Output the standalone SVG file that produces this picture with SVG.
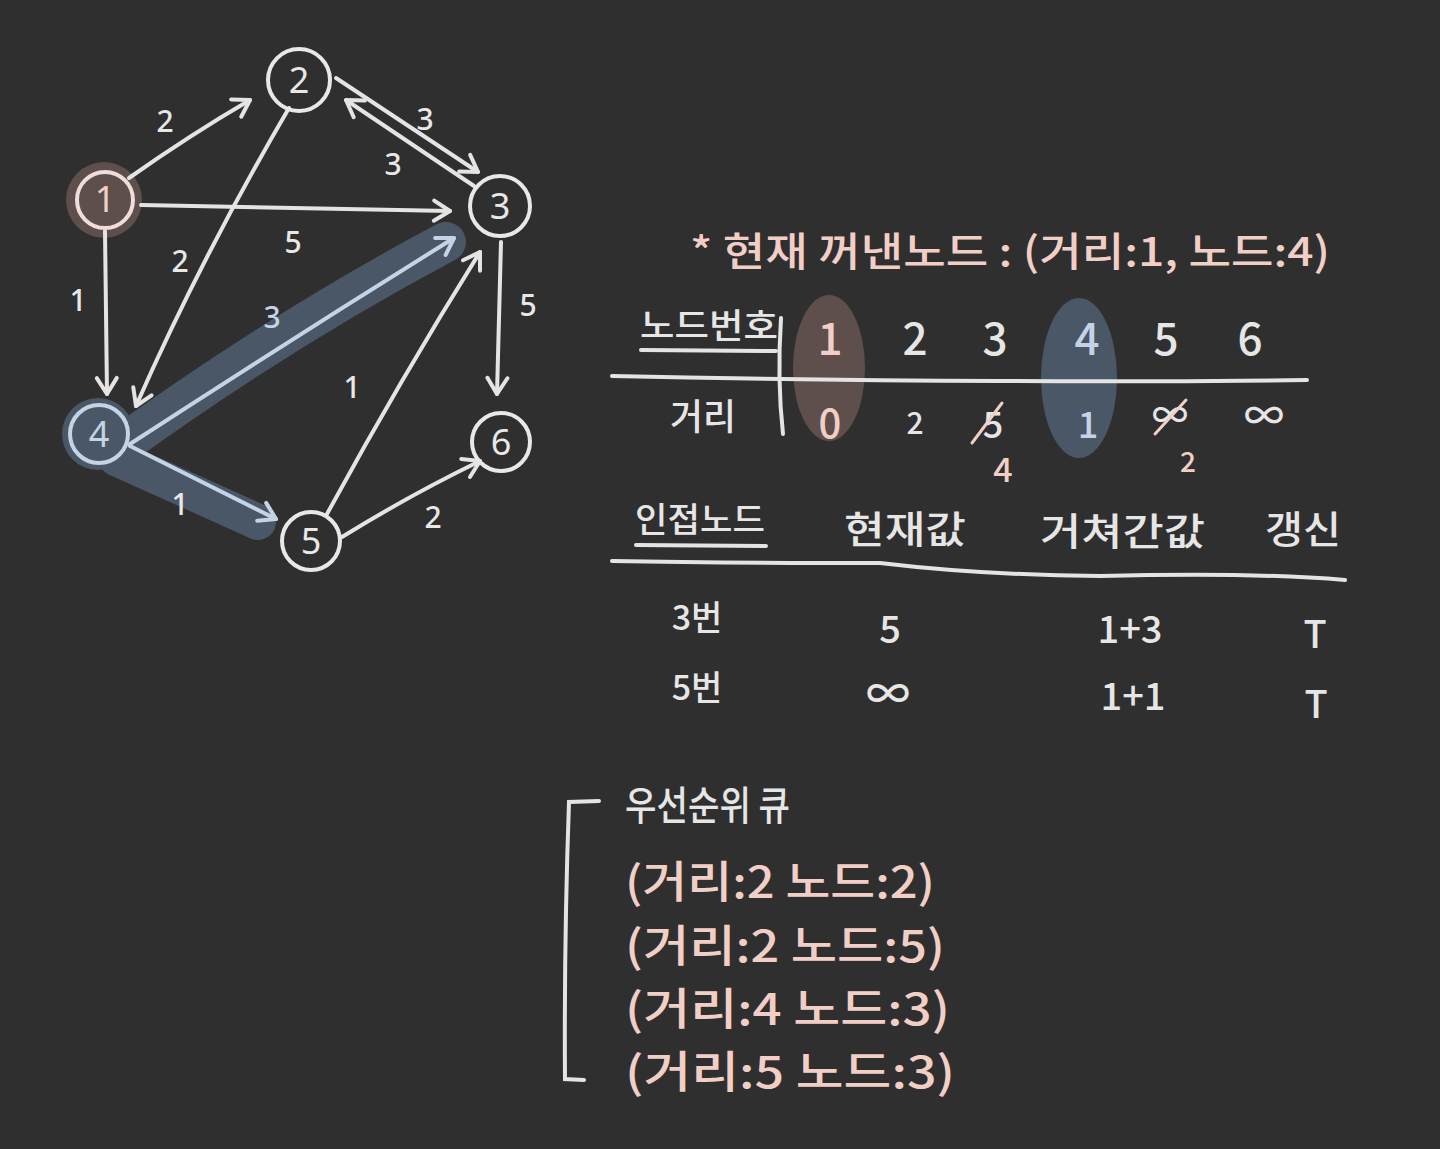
<svg xmlns="http://www.w3.org/2000/svg" width="1440" height="1149" viewBox="0 0 1440 1149">
<style>
  .bg{fill:#2f2f2f}
  .edge{fill:none;stroke:#e4e4e4;stroke-width:4;stroke-linecap:round;stroke-linejoin:round}
  .edge.hl{stroke:#c4d4e6}
  .band{fill:none;stroke:#4a5767;stroke-linecap:round}
  .node{fill:none;stroke:#e8e8e8;stroke-width:4}
  .nl{font-family:"Noto Sans","Noto Sans CJK KR",sans-serif;font-size:36px;fill:#e8e8e8;text-anchor:middle}
  .el{font-family:"Noto Sans","Noto Sans CJK KR",sans-serif;font-size:30px;font-weight:500;fill:#e8e8e8;text-anchor:middle}
  .t{font-family:"Noto Sans CJK KR","Noto Sans",sans-serif;font-weight:500;fill:#e6e6e6}
  .pk{fill:#f2cfc6}
  .bl{fill:#c4d4e6}
  .ln{fill:none;stroke:#e4e4e4;stroke-width:4;stroke-linecap:round}
  .slash{stroke:#f2cfc6;stroke-width:3;stroke-linecap:round}
</style>
<defs>
  <marker id="ah" markerUnits="userSpaceOnUse" viewBox="-20 -14 24 28" refX="0" refY="0" markerWidth="24" markerHeight="28" orient="auto">
    <path d="M-16,-10 L0,0 L-16,10" fill="none" stroke="#e4e4e4" stroke-width="4" stroke-linecap="round" stroke-linejoin="round"/>
  </marker>
  <marker id="ahb" markerUnits="userSpaceOnUse" viewBox="-20 -14 24 28" refX="0" refY="0" markerWidth="24" markerHeight="28" orient="auto">
    <path d="M-16,-10 L0,0 L-16,10" fill="none" stroke="#c4d4e6" stroke-width="4" stroke-linecap="round" stroke-linejoin="round"/>
  </marker>
</defs>
<rect class="bg" x="0" y="0" width="1440" height="1149"/>

<g id="highlights">
  <path class="band" stroke-width="40" d="M112,452 Q280,330 446,242"/>
  <path class="band" stroke-width="36" d="M116,458 L258,522"/>
  <circle cx="104" cy="200" r="38" fill="#5e4f4d"/>
  <circle cx="98" cy="434" r="36" fill="#4a5767"/>
</g>

<g id="connectors">
  <path class="edge" marker-end="url(#ah)" d="M129,178 Q190,135 250,100"/>
  <path class="edge" marker-end="url(#ah)" d="M141,205 L450,211"/>
  <path class="edge" marker-end="url(#ah)" d="M105,231 L107,394"/>
  <path class="edge" marker-end="url(#ah)" d="M289,108 Q200,260 136,406"/>
  <path class="edge" marker-end="url(#ah)" d="M336,78 L478,172"/>
  <path class="edge" marker-end="url(#ah)" d="M474,186 L346,100"/>
  <path class="edge hl" marker-end="url(#ahb)" d="M130,444 Q290,340 454,238"/>
  <path class="edge hl" marker-end="url(#ahb)" d="M130,446 L276,519"/>
  <path class="edge" marker-end="url(#ah)" d="M327,514 Q400,380 480,252"/>
  <path class="edge" marker-end="url(#ah)" d="M501,242 L497,394"/>
  <path class="edge" marker-end="url(#ah)" d="M342,537 Q410,495 480,461"/>
  <text class="el" x="165" y="132">2</text>
  <text class="el" x="293" y="253">5</text>
  <text class="el" x="78" y="311">1</text>
  <text class="el" x="180" y="272">2</text>
  <text class="el" x="425" y="130">3</text>
  <text class="el" x="393" y="175">3</text>
  <text class="el bl" x="272" y="328">3</text>
  <text class="el" x="180" y="515">1</text>
  <text class="el" x="352" y="398">1</text>
  <text class="el" x="528" y="316">5</text>
  <text class="el" x="433" y="528">2</text>
</g>

<g id="node1">
  <circle class="node" cx="105" cy="200" r="28" style="stroke:#f0dcdc"/>
  <text class="nl pk" x="105" y="212">1</text>
</g>
<g id="node2">
  <circle class="node" cx="299" cy="80" r="31"/>
  <text class="nl" x="299" y="93">2</text>
</g>
<g id="node3">
  <circle class="node" cx="500" cy="206" r="30"/>
  <text class="nl" x="500" y="219">3</text>
</g>
<g id="node4">
  <circle class="node" cx="99" cy="434" r="29" style="stroke:#c4d4e6"/>
  <text class="nl bl" x="99" y="447">4</text>
</g>
<g id="node5">
  <circle class="node" cx="311" cy="541" r="29"/>
  <text class="nl" x="311" y="554">5</text>
</g>
<g id="node6">
  <circle class="node" cx="501" cy="442" r="29"/>
  <text class="nl" x="501" y="455">6</text>
</g>

<g id="header">
  <text class="t pk" x="690" y="266" font-size="40" textLength="640" lengthAdjust="spacingAndGlyphs">* 현재 꺼낸노드 : (거리:1, 노드:4)</text>
</g>

<g id="distance-table">
  <ellipse cx="829" cy="368" rx="36" ry="73" fill="#5e4f4d"/>
  <ellipse cx="1079" cy="378" rx="38" ry="80" fill="#4a5767"/>
  <path class="ln" d="M612,376 Q800,380 1000,381 Q1150,382 1307,380"/>
  <path class="ln" d="M781,318 Q777,380 783,434"/>
  <text class="t" x="640" y="338" font-size="34" textLength="138" lengthAdjust="spacingAndGlyphs">노드번호</text>
  <path class="ln" d="M641,350 L776,351" stroke-width="3"/>
  <text class="t" x="670" y="430" font-size="36" textLength="66" lengthAdjust="spacingAndGlyphs">거리</text>
  <g class="t" font-size="44" text-anchor="middle">
    <text class="pk" x="830" y="355">1</text>
    <text x="915" y="355">2</text>
    <text x="995" y="355">3</text>
    <text class="bl" x="1087" y="355">4</text>
    <text x="1166" y="355">5</text>
    <text x="1250" y="355">6</text>
  </g>
  <g class="t" text-anchor="middle">
    <text class="pk" x="830" y="438" font-size="40">0</text>
    <text x="915" y="434" font-size="30">2</text>
    <text x="993" y="438" font-size="36">5</text>
    <text class="pk" x="1003" y="482" font-size="34">4</text>
    <text class="bl" x="1088" y="438" font-size="36">1</text>
    <text x="1170" y="428" font-size="36">∞</text>
    <text class="pk" x="1188" y="472" font-size="28">2</text>
    <text x="1264" y="430" font-size="40">∞</text>
  </g>
  <line class="slash" x1="972" y1="443" x2="1002" y2="403"/>
  <line class="slash" x1="1155" y1="434" x2="1186" y2="400"/>
</g>

<g id="neighbor-table">
  <text class="t" x="635" y="532" font-size="34" textLength="130" lengthAdjust="spacingAndGlyphs">인접노드</text>
  <path class="ln" d="M636,545 L766,546" stroke-width="3"/>
  <text class="t" x="844" y="543" font-size="38" textLength="122" lengthAdjust="spacingAndGlyphs">현재값</text>
  <text class="t" x="1040" y="545" font-size="38" textLength="165" lengthAdjust="spacingAndGlyphs">거쳐간값</text>
  <text class="t" x="1265" y="543" font-size="38" textLength="76" lengthAdjust="spacingAndGlyphs">갱신</text>
  <path class="ln" d="M612,561 Q720,563 880,563 Q980,575 1100,576 Q1250,572 1345,580"/>
  <g class="t" text-anchor="middle">
    <text x="697" y="630" font-size="34">3번</text>
    <text x="890" y="643" font-size="38">5</text>
    <text x="1130" y="643" font-size="38">1+3</text>
    <text x="1315" y="648" font-size="38">T</text>
    <text x="697" y="700" font-size="34">5번</text>
    <text x="888" y="710" font-size="44">∞</text>
    <text x="1133" y="710" font-size="38">1+1</text>
    <text x="1316" y="718" font-size="38">T</text>
  </g>
</g>

<g id="priority-queue">
  <path class="ln" d="M599,801 L569,802 Q564,940 565,1079 L584,1080"/>
  <text class="t" x="625" y="820" font-size="40" textLength="165" lengthAdjust="spacingAndGlyphs">우선순위 큐</text>
  <g class="t pk" font-size="44">
    <text x="625" y="898" textLength="310" lengthAdjust="spacingAndGlyphs">(거리:2 노드:2)</text>
    <text x="625" y="962" textLength="320" lengthAdjust="spacingAndGlyphs">(거리:2 노드:5)</text>
    <text x="625" y="1025" textLength="325" lengthAdjust="spacingAndGlyphs">(거리:4 노드:3)</text>
    <text x="625" y="1088" textLength="330" lengthAdjust="spacingAndGlyphs">(거리:5 노드:3)</text>
  </g>
</g>
</svg>
